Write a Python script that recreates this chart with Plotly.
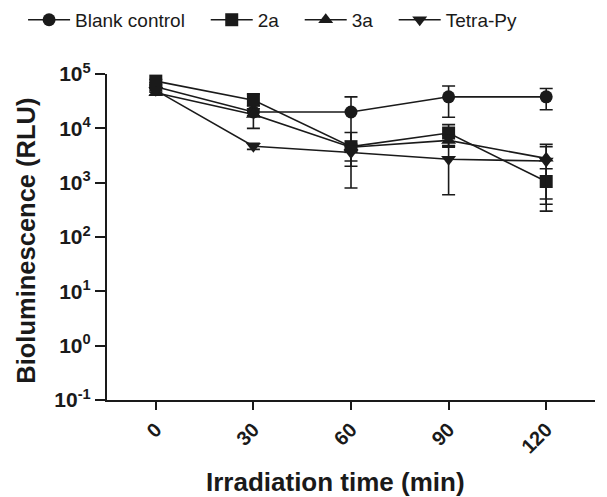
import plotly.graph_objects as go

times = [0, 30, 60, 90, 120]
series_names = ["Blank control", "2a", "3a", "Tetra-Py"]
blank_mean = [5.8e4, 2.0e4, 2.0e4, 3.8e4, 3.8e4]
blank_sd = [5e3, 3e3, 1.8e4, 2.2e4, 1.6e4]
a2_mean = [7.4e4, 3.3e4, 4.6e3, 8.2e3, 1.05e3]
a2_sd = [5e3, 1.0e4, 3.8e3, 3.5e3, 750]
a3_mean = [4.5e4, 1.8e4, 4.5e3, 6.0e3, 2.8e3]
a3_sd = [4e3, 8e3, 600, 1.5e3, 2.3e3]
tp_mean = [5.0e4, 4.7e3, 3.6e3, 2.7e3, 2.5e3]
tp_sd = [4e3, 600, 1.1e3, 2.1e3, 2.1e3]
symbols = ["circle", "square", "triangle-up", "triangle-down"]
ytick_vals = [0.1, 1, 10, 100, 1000, 10000, 100000]
ytick_text = ["10<sup>-1</sup>", "10<sup>0</sup>", "10<sup>1</sup>", "10<sup>2</sup>",
              "10<sup>3</sup>", "10<sup>4</sup>", "10<sup>5</sup>"]
x_title = "Irradiation time (min)"
y_title = "Bioluminescence (RLU)"

col = "#1a1a1a"
pad = "\u00a0\u00a0\u00a0"
fig = go.Figure()
for name, m, s, sym in zip(series_names, [blank_mean, a2_mean, a3_mean, tp_mean],
                           [blank_sd, a2_sd, a3_sd, tp_sd], symbols):
    fig.add_trace(go.Scatter(
        x=times, y=m, name=name + pad, mode="lines+markers",
        line=dict(color=col, width=1.6),
        marker=dict(symbol=sym, size=13, color=col),
        error_y=dict(type="data", array=s, arrayminus=s, symmetric=False,
                     color=col, thickness=1.6, width=6.5),
        cliponaxis=False,
    ))

font_fam = "Arial, Liberation Sans, sans-serif"
fig.update_layout(
    width=607, height=497,
    margin=dict(l=107, r=12, t=74, b=97, autoexpand=False),
    plot_bgcolor="white", paper_bgcolor="white",
    font=dict(family=font_fam, color=col),
    showlegend=True,
    legend=dict(orientation="h", x=-0.172, xanchor="left", y=1.166, yanchor="middle",
                font=dict(size=19, family=font_fam, color=col),
                itemwidth=42, tracegroupgap=0, bgcolor="rgba(0,0,0,0)"),
    xaxis=dict(range=[-15, 135], tickvals=times, ticktext=[str(t) for t in times],
               tickangle=-45, showgrid=False, zeroline=False,
               showline=True, linecolor=col, linewidth=2.2,
               ticks="outside", ticklen=8, tickwidth=2.2, tickcolor=col,
               tickfont=dict(size=20, family=font_fam, color=col, weight="bold")),
    yaxis=dict(type="log", range=[-1, 5], tickvals=ytick_vals, ticktext=ytick_text,
               showgrid=False, zeroline=False,
               showline=True, linecolor=col, linewidth=2.2,
               ticks="outside", ticklen=10, tickwidth=2.2, tickcolor=col,
               tickfont=dict(size=21, family=font_fam, color=col, weight="bold")),
    annotations=[
        dict(text="<b>" + x_title + "</b>", xref="paper", yref="paper",
             x=0.469, y=-0.2515, xanchor="center", yanchor="middle", showarrow=False,
             font=dict(size=26, family=font_fam, color=col)),
        dict(text="<b>" + y_title + "</b>", xref="paper", yref="paper",
             x=-0.165, y=0.49, xanchor="center", yanchor="middle", showarrow=False,
             textangle=-90, font=dict(size=25.5, family=font_fam, color=col)),
    ],
)
fig.write_html("out.html")
